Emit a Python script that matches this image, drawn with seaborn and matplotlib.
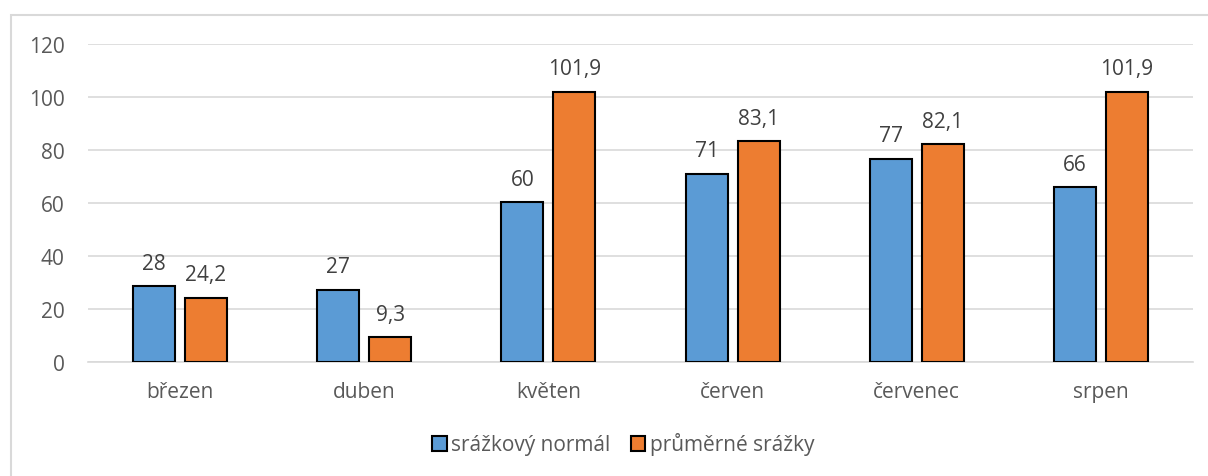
import matplotlib
matplotlib.use("Agg")
import matplotlib.pyplot as plt
from matplotlib.patches import Patch, Rectangle
import pandas as pd
import seaborn as sns

# data
months = ["březen", "duben", "květen", "červen", "červenec", "srpen"]
normal = [28.4, 27.2, 60.2, 71.0, 76.6, 65.9]
average = [24.2, 9.3, 101.9, 83.1, 82.1, 101.9]
series_names = ["srážkový normál", "průměrné srážky"]
y_ticks = [0, 20, 40, 60, 80, 100, 120]

COLORS = ["#5B9BD5", "#ED7D31"]
TEXT = "#595959"
LABEL = "#404040"
GRID = "#D9D9D9"
FS = 15

df = pd.DataFrame({
    "month": months * 2,
    "value": normal + average,
    "series": [series_names[0]] * len(months) + [series_names[1]] * len(months),
})

sns.set_theme(style="white")
plt.rcParams["font.family"] = ["Open Sans", "DejaVu Sans"]

fig = plt.figure(figsize=(12.08, 4.77), dpi=100)
ax = fig.add_axes([88 / 1208, 1 - 362.7 / 477, (1193 - 88) / 1208, (362.7 - 44.7) / 477])

sns.barplot(
    data=df, x="month", y="value", hue="series",
    order=months, hue_order=series_names,
    palette=COLORS, saturation=1, width=0.564, gap=0.19,
    edgecolor="black", linewidth=1.5,
    ax=ax, legend=False, zorder=3,
)

ax.set_ylim(0, 120)
ax.set_xlim(-0.5, len(months) - 0.5)
ax.set_yticks(y_ticks)
ax.yaxis.grid(True, color=GRID, linewidth=1.2, zorder=0)
ax.set_axisbelow(True)
for s in ["top", "right", "left"]:
    ax.spines[s].set_visible(False)
ax.spines["bottom"].set_color(GRID)
ax.spines["bottom"].set_linewidth(1.2)
ax.set_xlabel("")
ax.set_ylabel("")
ax.tick_params(axis="y", length=0, pad=17, labelsize=FS, labelcolor=TEXT)
ax.tick_params(axis="x", length=0, pad=14, labelsize=FS, labelcolor=TEXT)

# data labels: normal as integers, average with one decimal (comma separator)
fmt = [lambda v: f"{v:.0f}", lambda v: f"{v:.1f}".replace(".", ",")]
for cont, f in zip(ax.containers, fmt):
    labels = [f(b.get_height()) for b in cont]
    ax.bar_label(cont, labels=labels, padding=9, fontsize=FS, color=LABEL)

handles = [Patch(facecolor=c, edgecolor="black", linewidth=1.5) for c in COLORS]
fig.legend(
    handles, series_names, loc="center", bbox_to_anchor=(623 / 1208, 1 - 445 / 477),
    ncol=2, frameon=False, fontsize=FS, labelcolor=TEXT,
    handlelength=0.7, handleheight=0.7, handletextpad=0.2, columnspacing=1.0,
)

# outer chart border (partially cropped in the reference)
fig.patches.append(Rectangle(
    (11 / 1208, -0.1), 1.2, 1.1 - 16 / 477,
    transform=fig.transFigure, fill=False, edgecolor=GRID, linewidth=1.5,
))

fig.savefig("out.png", dpi=100)
